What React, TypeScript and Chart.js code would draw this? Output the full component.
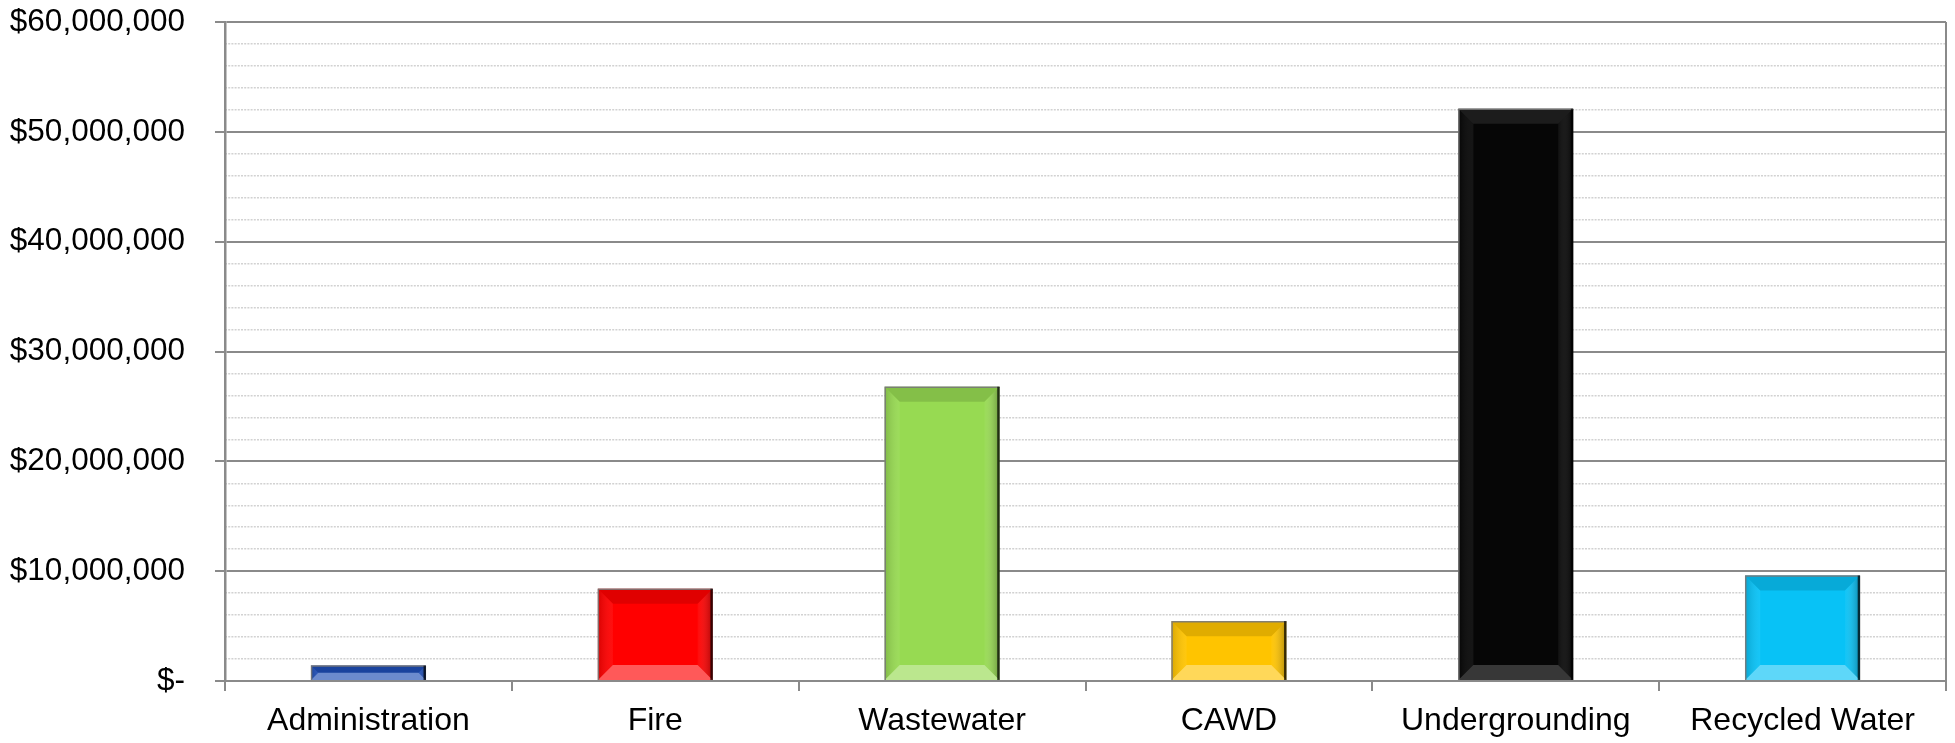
import React, { useEffect, useRef } from "react";
import { Chart, registerables } from "chart.js";

Chart.register(...registerables);

const categories = ["Administration", "Fire", "Wastewater", "CAWD", "Undergrounding", "Recycled Water"];
const values = [1400000, 8400000, 26800000, 5450000, 52100000, 9600000];
const barColors = ["#1e4db4", "#ff0000", "#97da52", "#ffc400", "#060606", "#08c2f6"];
const yMin = 0;
const yMax = 60000000;
const majorStep = 10000000;
const minorStep = 2000000;

const FONT = "'Liberation Sans', Arial, sans-serif";

function poly(ctx: CanvasRenderingContext2D, pts: number[][], fill: string | CanvasGradient) {
  ctx.beginPath();
  ctx.moveTo(pts[0][0], pts[0][1]);
  for (let i = 1; i < pts.length; i++) ctx.lineTo(pts[i][0], pts[i][1]);
  ctx.closePath();
  ctx.fillStyle = fill;
  ctx.fill();
}

const bevelPlugin = {
  id: "bevel",
  afterDatasetsDraw(chart: any) {
    const ctx: CanvasRenderingContext2D = chart.ctx;
    const meta = chart.getDatasetMeta(0);
    ctx.save();
    meta.data.forEach((bar: any, i: number) => {
      const { x, y, base, width } = bar.getProps(["x", "y", "base", "width"], true);
      const left = x - width / 2;
      const right = x + width / 2;
      const top = Math.min(y, base);
      const bottom = Math.max(y, base);
      const h = bottom - top;
      const b = Math.min(15, width / 2, h / 2);
      const isDark = barColors[i] === "#060606";
      // top facet
      poly(ctx, [[left, top], [right, top], [right - b, top + b], [left + b, top + b]],
        isDark ? "rgba(255,255,255,0.09)" : "rgba(0,0,0,0.12)");
      // bottom facet
      poly(ctx, [[left, bottom], [right, bottom], [right - b, bottom - b], [left + b, bottom - b]],
        isDark ? "rgba(255,255,255,0.2)" : "rgba(255,255,255,0.35)");
      // left facet
      const gl = ctx.createLinearGradient(left, 0, left + b, 0);
      gl.addColorStop(0, "rgba(0,0,0,0.15)");
      gl.addColorStop(1, "rgba(255,255,255,0.06)");
      poly(ctx, [[left, top], [left + b, top + b], [left + b, bottom - b], [left, bottom]], gl);
      // right facet
      const gr = ctx.createLinearGradient(right - b, 0, right, 0);
      gr.addColorStop(0, "rgba(255,255,255,0.04)");
      gr.addColorStop(1, "rgba(0,0,0,0.3)");
      poly(ctx, [[right, top], [right - b, top + b], [right - b, bottom - b], [right, bottom]], gr);
      // outline
      ctx.lineWidth = 1.5;
      ctx.strokeStyle = "rgba(120,120,120,0.9)";
      ctx.beginPath();
      ctx.moveTo(left + 0.5, bottom);
      ctx.lineTo(left + 0.5, top + 0.5);
      ctx.lineTo(right, top + 0.5);
      ctx.stroke();
      ctx.strokeStyle = "rgba(0,0,0,0.7)";
      ctx.lineWidth = 2.5;
      ctx.beginPath();
      ctx.moveTo(right - 1, top);
      ctx.lineTo(right - 1, bottom);
      ctx.stroke();
    });
    // right plot border
    const area = chart.chartArea;
    ctx.strokeStyle = "#8a8a8a";
    ctx.lineWidth = 2;
    ctx.beginPath();
    ctx.moveTo(area.right, area.top);
    ctx.lineTo(area.right, area.bottom + 10);
    ctx.stroke();
    ctx.restore();
  },
};

export default function App() {
  const canvasRef = useRef<HTMLCanvasElement | null>(null);

  useEffect(() => {
    document.body.style.margin = "0";
    const canvas = canvasRef.current;
    if (!canvas) return;
    const chart = new Chart(canvas, {
      type: "bar",
      data: {
        labels: categories,
        datasets: [
          {
            data: values,
            backgroundColor: barColors,
            borderWidth: 0,
            categoryPercentage: 0.4,
            barPercentage: 1.0,
            yAxisID: "y",
          },
        ],
      },
      plugins: [bevelPlugin],
      options: {
        animation: false,
        responsive: true,
        maintainAspectRatio: false,
        layout: { padding: { top: 0, right: 9, left: 0, bottom: 0 } },
        plugins: {
          legend: { display: false },
          tooltip: { enabled: false },
        },
        scales: {
          x: {
            grid: {
              offset: true,
              drawOnChartArea: false,
              drawTicks: true,
              tickLength: 10,
              color: "#8a8a8a",
              lineWidth: 2,
            },
            border: { display: true, color: "#8a8a8a", width: 2 },
            ticks: {
              color: "#000",
              font: { family: FONT, size: 32 },
              padding: 11,
              maxRotation: 0,
            },
            afterFit(scale: any) {
              scale.height = 62;
            },
          },
          y2: {
            position: "left",
            min: yMin,
            max: yMax,
            ticks: { display: false, stepSize: minorStep },
            grid: {
              drawTicks: false,
              color: (c: any) => (c.tick && c.tick.value % majorStep === 0 ? "rgba(0,0,0,0)" : "#d2d2d2"),
              lineWidth: 1.5,
            },
            border: { display: false, dash: [2, 1.2] },
            afterFit(scale: any) {
              scale.width = 0;
              scale.paddingTop = 0;
              scale.paddingBottom = 0;
            },
          },
          y: {
            position: "left",
            min: yMin,
            max: yMax,
            ticks: {
              stepSize: majorStep,
              color: "#000",
              font: { family: FONT, size: 31.5 },
              padding: 30,
              callback: (v: any) => (Number(v) === 0 ? "$-" : "$" + Number(v).toLocaleString("en-US")),
            },
            grid: {
              color: "#8a8a8a",
              lineWidth: 2,
              tickLength: 10,
              drawTicks: true,
            },
            border: { display: true, color: "#8a8a8a", width: 2.5 },
            afterFit(scale: any) {
              scale.width = 225;
              scale.paddingTop = 22;
              scale.paddingBottom = 0;
            },
          },
        },
      },
    } as any);
    return () => chart.destroy();
  }, []);

  return (
    <div style={{ width: 1955, height: 743, position: "relative" }}>
      <canvas ref={canvasRef} />
    </div>
  );
}
